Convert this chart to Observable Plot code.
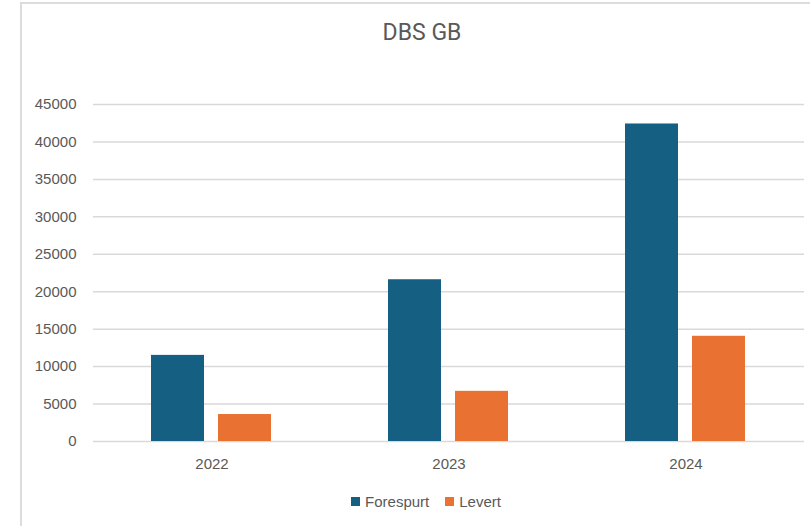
<!DOCTYPE html>
<html>
<head>
<meta charset="utf-8">
<script src="https://cdn.jsdelivr.net/npm/d3@7"></script>
<script src="https://cdn.jsdelivr.net/npm/@observablehq/plot@0.6"></script>
<style>
  html, body { margin: 0; padding: 0; background: #fff; }
  #wrap { position: relative; width: 810px; height: 526px; overflow: hidden; font-family: "Liberation Sans", Arial, sans-serif; }
  #frame { position: absolute; left: 20px; top: 2px; width: 900px; height: 600px; border-left: 2px solid #dcdcdc; border-top: 2px solid #dcdcdc; }
  #title { position: absolute; left: 21px; width: 802px; top: 19px; text-align: center; font-family: Roboto, sans-serif; font-size: 23px; color: #595959; }
  #chart { position: absolute; left: 0; top: 0; }
  #legend { position: absolute; left: 25px; width: 802px; top: 492px; text-align: center; font-size: 15px; color: #595959; }
  #legend span.item { display: inline-flex; align-items: center; margin: 0 8px; }
  #legend span.sw { display: inline-block; width: 9px; height: 9px; margin-right: 5px; }
</style>
</head>
<body>
<div id="wrap">
  <div id="frame"></div>
  <div id="title">DBS GB</div>
  <div id="chart"></div>
  <div id="legend"></div>
</div>
<script>
const years = ["2022", "2023", "2024"];
const seriesNames = ["Forespurt", "Levert"];
const forespurt = [11500, 21600, 42400];
const levert = [3600, 6700, 14050];
const yTicks = [0, 5000, 10000, 15000, 20000, 25000, 30000, 35000, 40000, 45000];
const colors = ["#156082", "#E97132"];

const data = [];
years.forEach((y, i) => {
  data.push({year: y, series: seriesNames[0], value: forespurt[i]});
  data.push({year: y, series: seriesNames[1], value: levert[i]});
});

const chart = Plot.plot({
  width: 810,
  height: 526,
  marginLeft: 92,
  marginRight: 6,
  marginTop: 104,
  marginBottom: 85,
  style: {background: "transparent", fontFamily: "'Liberation Sans', Arial, sans-serif", fontSize: "15px", color: "#595959"},
  fx: {domain: years, padding: 0, label: null, axis: "bottom", tickSize: 0, tickPadding: 17},
  x: {domain: seriesNames, paddingInner: 0.206, paddingOuter: 0.848, axis: null},
  y: {domain: [0, 45000], label: null, ticks: yTicks, tickSize: 0, tickPadding: 17, tickFormat: d => String(d)},
  color: {domain: seriesNames, range: colors},
  marks: [
    Plot.ruleY(yTicks, {stroke: "#d9d9d9", strokeWidth: 1.5, facetAnchor: null, fx: null}),
    Plot.barY(data, {fx: "year", x: "series", y: "value", fill: "series"})
  ]
});
document.getElementById("chart").appendChild(chart);

const legend = document.getElementById("legend");
seriesNames.forEach((name, i) => {
  const item = document.createElement("span");
  item.className = "item";
  const sw = document.createElement("span");
  sw.className = "sw";
  sw.style.background = colors[i];
  item.appendChild(sw);
  item.appendChild(document.createTextNode(name));
  legend.appendChild(item);
});
</script>
</body>
</html>
